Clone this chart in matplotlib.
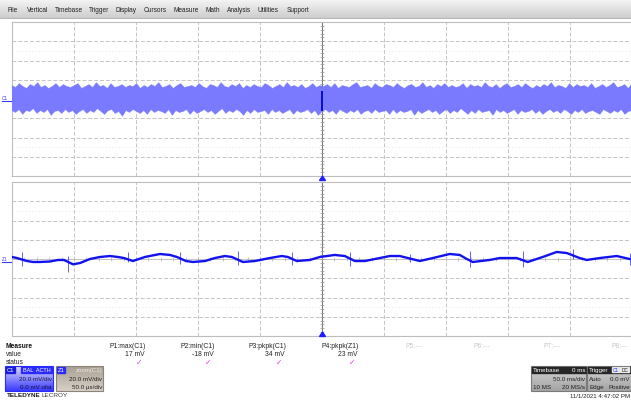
import numpy as np
import matplotlib
matplotlib.use('Agg')
import matplotlib.pyplot as plt
from matplotlib.patches import Rectangle, Polygon
import matplotlib.colors as mcolors

plt.rcParams['font.family'] = ['Liberation Sans', 'DejaVu Sans']

# ---------------- data ----------------
menu_items = ["File", "Vertical", "Timebase", "Trigger", "Display", "Cursors",
              "Measure", "Math", "Analysis", "Utilities", "Support"]

# C1 (50 ms/div, 20 mV/div): envelope of the noise band, mV
c1_upper_mv = [14,12,16,13,11,15,13,17,12,14,11,13,16,12,15,13,12,14,16,11,
               13,15,12,17,13,14,11,16,12,13,15,12,14,13,16,11,14,12,15,13,
               17,12,13,15,11,14,16,12,13,14,12,16,13,11,15,14,12,17,13,12,
               15,13,16,11,14,12,15,13,12,16,14,11,13,15,12,17,13,14,12,15,
               11,13,16,12,14,13,15,12,16,11,14,13,12,15,17,12,13,14,11,16,
               13,12,15,14,12,16,13,11,14,15,12,13,17,12,14,11,15,13,16,12,
               14,12,13,16,11,15,13,14,12,17,13,12,15,11,14,16,12,13,15,12,
               16,13,11,14,12,15,13,17,12,14,13,11,16,12,15,13,14,12,16,11,
               13,15,12,14,17,12,13,15,11,16]
c1_lower_mv = [-12,-14,-11,-16,-12,-13,-10,-15,-12,-14,-11,-17,-13,-12,-15,-11,-14,-12,-16,-13,
               -11,-15,-12,-14,-10,-13,-16,-12,-11,-15,-13,-18,-12,-14,-11,-13,-15,-12,-16,-11,
               -14,-12,-13,-15,-11,-17,-12,-14,-13,-11,-16,-12,-15,-13,-11,-14,-12,-16,-13,-10,
               -15,-12,-14,-11,-13,-17,-12,-15,-11,-14,-13,-12,-16,-11,-14,-12,-15,-13,-11,-16,
               -12,-14,-13,-11,-15,-12,-17,-13,-11,-14,-12,-16,-11,-13,-15,-12,-14,-11,-16,-13,
               -12,-15,-11,-14,-13,-12,-16,-11,-15,-12,-14,-13,-11,-17,-12,-15,-13,-11,-14,-12,
               -16,-13,-11,-15,-12,-14,-10,-13,-16,-12,-15,-11,-14,-13,-12,-17,-11,-14,-12,-15,
               -13,-11,-16,-12,-14,-13,-11,-15,-12,-16,-13,-11,-14,-12,-15,-11,-13,-16,-12,-14,
               -11,-15,-13,-12,-14,-16,-11,-13,-15,-12,-14,-11,-16,-13,-12]
c1_span_ms = 500
trig_time_ms = 250
trig_mark_mv = (-12, 8)

# Z1 (50 us/div, 20 mV/div)
z1_time_us = [0.0, 4.0, 12.1, 16.9, 22.6, 30.6, 37.1, 41.9, 49.2, 54.8, 62.9, 70.9, 79.0,
              85.4, 90.3, 97.5, 107.2, 119.3, 127.4, 133.0, 140.3, 145.9, 155.6, 163.6,
              171.7, 177.3, 186.2, 195.9, 207.9, 217.6, 222.5, 229.7, 240.2, 248.3, 260.3,
              268.4, 276.5, 284.5, 296.6, 304.7, 312.7, 328.9, 339.4, 353.0, 361.1, 366.8,
              371.6, 385.3, 393.3, 407.0, 415.9, 428.0, 439.3, 447.4, 457.8, 463.5, 474.0,
              487.7, 498.1]
z1_mv = [2.1, 1.0, -2.1, -3.1, -3.1, -2.6, -1.0, -1.0, -5.5, -4.2, 0.0, 2.1, 3.1,
         2.1, 1.0, -2.1, 2.1, 5.2, 4.2, 2.1, -2.1, -3.1, -2.1, 1.0,
         3.1, 2.1, -3.1, -2.1, 1.0, 3.1, 2.1, -2.1, -1.0, 2.1, 4.2,
         3.1, -2.1, -2.1, 1.0, 3.1, 3.1, -2.1, 1.0, 5.2, 4.2, 0.0,
         -3.1, -1.0, 1.0, 1.0, -3.1, 2.1, 7.3, 6.2, 1.0, -1.0, 1.0,
         3.1, 0.0]
z1_spike_time_us = [8.1, 45.1, 93.5, 135.4, 182.2, 225.7, 272.4, 320.8, 369.2, 411.9, 452.2, 498.1]
z1_spike_hi_mv = [7.3, 3.1, 7.3, 7.3, 8.3, 7.3, 7.3, 5.2, 8.3, 8.3, 10.4, 6.2]
z1_spike_lo_mv = [-7.3, -13.5, -3.1, -5.2, -6.2, -6.2, -7.3, -3.1, -8.3, -8.3, 0.0, -6.2]

measure_labels = ["P1:max(C1)", "P2:min(C1)", "P3:pkpk(C1)", "P4:pkpk(Z1)",
                  "P5:---", "P6:---", "P7:---", "P8:---"]
measure_values = ["17 mV", "-18 mV", "34 mV", "23 mV", "", "", "", ""]
date_text = "11/1/2021 4:47:02 PM"

# ---------------- layout ----------------
W, H = 631, 402
menu_x = [8, 27, 55, 89, 116, 144, 173, 205, 227, 258, 287]
meas_right = [146, 215, 286, 359]
meas_left = [405, 474, 543, 611]

fig = plt.figure(figsize=(W / 100, H / 100), dpi=100)
fig.patch.set_facecolor('white')

ax_bg = fig.add_axes([0, 0, 1, 1])
ax_bg.set_xlim(0, W); ax_bg.set_ylim(H, 0); ax_bg.axis('off')


def grad_rect(ax, x0, y0, x1, y1, c_top, c_bot, z=1):
    t = np.linspace(0, 1, 32)[:, None]
    a = np.array(mcolors.to_rgb(c_top)); b = np.array(mcolors.to_rgb(c_bot))
    img = (a * (1 - t) + b * t)[:, None, :]
    ax.imshow(img, extent=(x0, x1, y1, y0), aspect='auto', zorder=z,
              interpolation='bilinear')


# menu bar
grad_rect(ax_bg, 0, 0, W, 19, '#f6f6f6', '#cdcdcd')
ax_bg.plot([0, W], [19, 19], color='#a8a8a8', lw=0.6)
for name, x in zip(menu_items, menu_x):
    ax_bg.text(x, 10.5, name, fontsize=4.7, color='#202020', ha='left', va='center')

# ---------------- panels ----------------
def make_panel(rect):
    ax = fig.add_axes(rect)
    ax.set_xlim(0, 500); ax.set_ylim(-80, 80)
    ax.set_xticks([]); ax.set_yticks([])
    ax.set_facecolor('white')
    for s in ax.spines.values():
        s.set_color('#bdbdbd'); s.set_linewidth(0.8)
    for i in range(1, 10):
        if i == 5:
            continue
        ax.axvline(i * 50, color='#c4c4c4', lw=0.7, ls=(0, (4, 2)), zorder=1)
    for j in range(-3, 4):
        if j == 0:
            continue
        ax.axhline(j * 20, color='#c4c4c4', lw=0.7, ls=(0, (4, 2)), zorder=1)
    for j in (-50, 50):
        ax.axhline(j, color='#dedede', lw=0.6, ls=(0, (1, 3)), zorder=1)
    # centre axes with ticks
    ax.axhline(0, color='#b8b8b8', lw=0.6, zorder=1)
    ax.axvline(250, color='#7a7a7a', lw=0.8, zorder=1)
    yt = np.arange(-80, 81, 4)
    ax.hlines(yt, 248.4, 251.6, color='#9a9a9a', lw=0.5, zorder=1)
    xt = np.arange(0, 501, 10)
    ax.vlines(xt, -1.6, 1.6, color='#b0b0b0', lw=0.5, zorder=1)
    return ax


ax1 = make_panel([12 / W, 1 - 177 / H, 620 / W, 154 / H])
ax2 = make_panel([12 / W, 1 - 337 / H, 620 / W, 154 / H])

# C1 noise band
t_up = np.linspace(0, c1_span_ms, len(c1_upper_mv))
t_lo = np.linspace(0, c1_span_ms, len(c1_lower_mv))
xs = np.concatenate([t_up, t_lo[::-1]])
ys = np.concatenate([np.array(c1_upper_mv), np.array(c1_lower_mv)[::-1]])
ax1.fill(xs, ys, color='#7a7aff', lw=0.3, zorder=3)
ax1.vlines(trig_time_ms, trig_mark_mv[0], trig_mark_mv[1], color='#0000d0', lw=1.3, zorder=4)

# Z1 trace
ax2.vlines(z1_spike_time_us, z1_spike_lo_mv, z1_spike_hi_mv, color='#4a4aff', lw=0.6, zorder=3)
ax2.plot(z1_time_us, z1_mv, color='#1212ee', lw=1.7, zorder=4, solid_joinstyle='round')

# ---------------- foreground chrome ----------------
ax_fg = fig.add_axes([0, 0, 1, 1], facecolor='none')
ax_fg.set_xlim(0, W); ax_fg.set_ylim(H, 0); ax_fg.axis('off')

for y in (181.5, 337.5):
    ax_fg.add_patch(Polygon([(319.5, y), (325.5, y), (322.5, y - 4.5)], closed=True,
                            color='#2020ff', zorder=5))

# channel labels at left
for lab, y in (("C1", 99), ("Z1", 260)):
    ax_fg.text(2, y, lab, fontsize=3.4, color='#3a3aff', ha='left', va='center')
    ax_fg.plot([2, 11], [y + 2.5, y + 2.5], color='#3a3aff', lw=0.8)

# measure table
ax_fg.text(6, 347, "Measure", fontsize=4.8, fontweight='bold', color='#111111', va='center')
ax_fg.text(6, 355, "value", fontsize=4.8, color='#222222', va='center')
ax_fg.text(6, 363, "status", fontsize=4.8, color='#222222', va='center')
for i in range(4):
    ax_fg.text(meas_right[i], 347, measure_labels[i], fontsize=4.9, color='#222222',
               ha='right', va='center')
    ax_fg.text(meas_right[i] - 1, 355, measure_values[i], fontsize=4.9, color='#222222',
               ha='right', va='center')
    ax_fg.text(meas_right[i] - 4, 362.5, "\u2713", fontsize=5.5, color='#e040e0',
               ha='right', va='center', family='DejaVu Sans', fontweight='bold')
for i in range(4, 8):
    ax_fg.text(meas_left[i - 4], 347, measure_labels[i], fontsize=4.9, color='#c8c8c8',
               ha='left', va='center')

# C1 channel box
grad_rect(ax_fg, 5, 367, 53, 392, '#dcdcff', '#3a3aff', z=2)
ax_fg.add_patch(Rectangle((5, 367), 48, 25, fill=False, ec='#2a2aff', lw=0.8, zorder=3))
ax_fg.add_patch(Rectangle((6, 368), 9, 6, color='#1a1adc', zorder=3))
ax_fg.text(10.5, 371, "C1", fontsize=4.2, color='white', ha='center', va='center', zorder=4)
ax_fg.add_patch(Rectangle((21, 368), 31, 6, color='#2a2aff', zorder=3))
ax_fg.text(36.5, 371, "BAL  ACTH", fontsize=4.0, color='white', ha='center', va='center', zorder=4)
ax_fg.text(52, 380, "20.0 mV/div", fontsize=4.5, color='#1a1a40', ha='right', va='center', zorder=4)
ax_fg.text(52, 387.5, "0.0 mV ofst", fontsize=4.5, color='#101030', ha='right', va='center', zorder=4)

# Z1 box
grad_rect(ax_fg, 56, 367, 103, 392, '#a9a094', '#d6d0c6', z=2)
ax_fg.add_patch(Rectangle((56, 367), 47, 25, fill=False, ec='#8c8478', lw=0.8, zorder=3))
ax_fg.add_patch(Rectangle((57, 368), 8, 6, color='#2a2aff', zorder=3))
ax_fg.text(61, 371, "Z1", fontsize=4.2, color='white', ha='center', va='center', zorder=4)
ax_fg.text(102, 371, "zoom(C1)", fontsize=4.4, color='#eeeae4', ha='right', va='center', zorder=4)
ax_fg.text(102, 380, "20.0 mV/div", fontsize=4.5, color='#202020', ha='right', va='center', zorder=4)
ax_fg.text(102, 387.5, "50.0 \u00b5s/div", fontsize=4.5, color='#202020', ha='right', va='center', zorder=4)

# TELEDYNE LECROY
ax_fg.text(7, 395.5, "TELEDYNE", fontsize=4.6, fontweight='bold', color='#1a1a1a', va='center')
ax_fg.text(42, 395.5, "LECROY", fontsize=4.6, color='#3a3a3a', va='center')

# Timebase box
grad_rect(ax_fg, 531, 367, 586, 392, '#d4d4d4', '#a4a4a4', z=2)
ax_fg.add_patch(Rectangle((531, 367), 55, 25, fill=False, ec='#7a7a7a', lw=0.8, zorder=3))
ax_fg.add_patch(Rectangle((531.5, 367.5), 54, 6.5, color='#262626', zorder=3))
ax_fg.text(533, 371, "Timebase", fontsize=4.5, color='white', ha='left', va='center', zorder=4)
ax_fg.text(585, 371, "0 ms", fontsize=4.5, color='white', ha='right', va='center', zorder=4)
ax_fg.text(585, 380, "50.0 ms/div", fontsize=4.5, color='#202020', ha='right', va='center', zorder=4)
ax_fg.text(533, 387.5, "10 MS", fontsize=4.5, color='#202020', ha='left', va='center', zorder=4)
ax_fg.text(585, 387.5, "20 MS/s", fontsize=4.5, color='#202020', ha='right', va='center', zorder=4)

# Trigger box
grad_rect(ax_fg, 587, 367, 640, 392, '#d4d4d4', '#a4a4a4', z=2)
ax_fg.add_patch(Rectangle((587, 367), 53, 25, fill=False, ec='#7a7a7a', lw=0.8, zorder=3))
ax_fg.add_patch(Rectangle((587.5, 367.5), 52, 6.5, color='#262626', zorder=3))
ax_fg.text(589, 371, "Trigger", fontsize=4.5, color='white', ha='left', va='center', zorder=4)
ax_fg.add_patch(Rectangle((612, 368.3), 8, 5, color='#e8e8e8', zorder=4))
ax_fg.text(616, 370.8, "C1", fontsize=3.4, color='#2a2aff', ha='center', va='center', zorder=5)
ax_fg.add_patch(Rectangle((621, 368.3), 8, 5, color='#e8e8e8', zorder=4))
ax_fg.text(625, 370.8, "DC", fontsize=3.4, color='#202020', ha='center', va='center', zorder=5)
ax_fg.text(589, 380, "Auto", fontsize=4.5, color='#202020', ha='left', va='center', zorder=4)
ax_fg.text(630, 380, "0.0 mV", fontsize=4.4, color='#202020', ha='right', va='center', zorder=4)
ax_fg.text(589, 387.5, "Edge", fontsize=4.5, color='#202020', ha='left', va='center', zorder=4)
ax_fg.text(630, 387.5, "Positive", fontsize=4.4, color='#202020', ha='right', va='center', zorder=4)

ax_fg.text(630, 397, date_text, fontsize=4.4, color='#202020', ha='right', va='center')

ax_fg.set_xlim(0, W); ax_fg.set_ylim(H, 0)
ax_bg.set_xlim(0, W); ax_bg.set_ylim(H, 0)

fig.savefig('out.png', dpi=100)
